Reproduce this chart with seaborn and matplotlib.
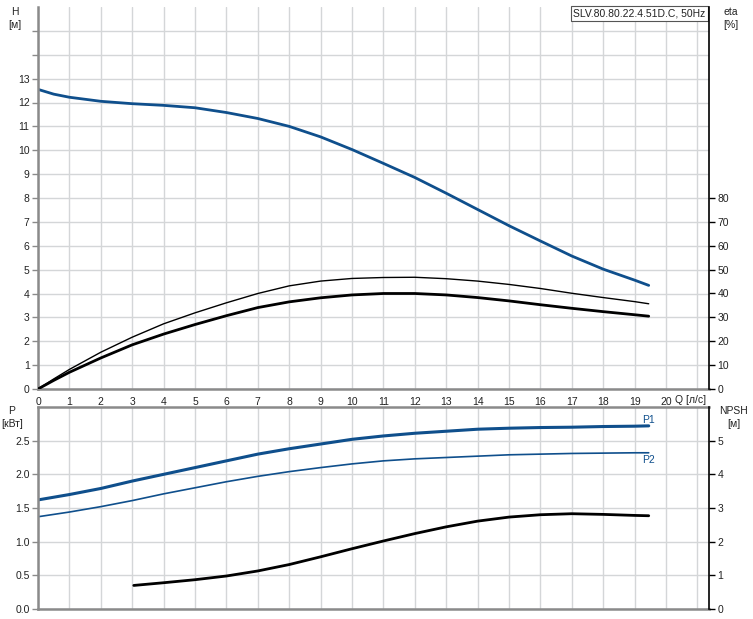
import numpy as np
import pandas as pd
import matplotlib
matplotlib.use("Agg")
import matplotlib.pyplot as plt
import seaborn as sns

# ---- data ----
q_h = [0, 0.5, 1, 2, 3, 4, 5, 6, 7, 8, 9, 10, 11, 12, 13, 14, 15, 16, 17, 18, 19, 19.45]
head = [12.55, 12.35, 12.22, 12.05, 11.95, 11.88, 11.78, 11.58, 11.33, 11.0, 10.56, 10.03,
        9.45, 8.86, 8.2, 7.52, 6.84, 6.2, 5.57, 5.02, 4.56, 4.34]

q_eta = [0, 0.5, 1, 2, 3, 4, 5, 6, 7, 8, 9, 10, 11, 12, 13, 14, 15, 16, 17, 18, 19, 19.45]
eta_thin = [0, 4.2, 8.2, 15.4, 21.7, 27.3, 31.9, 36.1, 40.0, 43.2, 45.2, 46.3, 46.7, 46.8,
            46.2, 45.2, 43.8, 42.1, 40.1, 38.3, 36.6, 35.7]
eta_thick = [0, 3.6, 7.0, 13.0, 18.5, 23.0, 27.0, 30.7, 34.1, 36.5, 38.2, 39.4, 40.0, 40.0,
             39.4, 38.3, 36.9, 35.3, 33.8, 32.4, 31.1, 30.5]

q_p = [0, 1, 2, 3, 4, 5, 6, 7, 8, 9, 10, 11, 12, 13, 14, 15, 16, 17, 18, 19, 19.45]
p1 = [1.62, 1.70, 1.79, 1.90, 2.00, 2.10, 2.20, 2.30, 2.38, 2.45, 2.52, 2.57, 2.61, 2.64,
      2.67, 2.685, 2.695, 2.70, 2.71, 2.715, 2.72]
p2 = [1.37, 1.44, 1.52, 1.61, 1.71, 1.80, 1.89, 1.97, 2.04, 2.10, 2.155, 2.20, 2.23, 2.25,
      2.27, 2.29, 2.30, 2.31, 2.315, 2.32, 2.32]

q_npsh = [3.05, 4, 5, 6, 7, 8, 9, 10, 11, 12, 13, 14, 15, 16, 17, 18, 19, 19.45]
npsh = [0.70, 0.78, 0.87, 0.98, 1.13, 1.32, 1.55, 1.79, 2.02, 2.24, 2.44, 2.61, 2.73, 2.80,
        2.83, 2.81, 2.78, 2.77]

title_text = "SLV.80.80.22.4.51D.C, 50Hz"

# ---- style ----
sns.set_style("white")
plt.rcParams['font.family'] = ['Liberation Sans', 'DejaVu Sans']
FS = 7.5
BLUE = "#0f4f8c"
GRID = "#d4d6d8"
SPINE = "#8a8a8a"

W, H = 753, 619
fig = plt.figure(figsize=(W / 100, H / 100), dpi=100)

def rect(l, t, r, b):
    return [l / W, 1 - b / H, (r - l) / W, (b - t) / H]

ax1 = fig.add_axes(rect(38, 7, 709, 389))
ax2 = fig.add_axes(rect(38, 407, 709, 609))
XMAX = 21.37

def base_style(ax, ymax, yticks, ylabels, show_top):
    ax.set_xlim(0, XMAX)
    ax.set_ylim(0, ymax)
    ax.set_xticks(range(0, 22))
    ax.set_yticks(yticks)
    ax.set_yticklabels(ylabels)
    ax.grid(True, color=GRID, linewidth=1.0)
    ax.set_axisbelow(True)
    for s in ["left", "bottom"]:
        ax.spines[s].set_color(SPINE)
        ax.spines[s].set_linewidth(1.8)
    ax.spines["top"].set_visible(show_top)
    ax.spines["top"].set_color(SPINE)
    ax.spines["top"].set_linewidth(1.8)
    ax.spines["right"].set_visible(False)
    ax.tick_params(axis="both", direction="out", length=4, width=1, color=SPINE,
                   labelsize=FS, pad=2, labelcolor="#222222")
    ax.set_xlabel("")
    ax.set_ylabel("")

# ---- top panel: head ----
sns.lineplot(x=q_h, y=head, ax=ax1, color=BLUE, linewidth=2.0)
base_style(ax1, 16, range(0, 16), [str(v) if v <= 13 else "" for v in range(0, 16)], False)
xl = [str(v) if v <= 20 else "" for v in range(0, 22)]
ax1.set_xticklabels(xl)
ax1.text(20.3, -0.45, "Q [л/с]", fontsize=FS, ha="left", va="center", color="#222222")

ax1r = ax1.twinx()
sns.lineplot(x=q_eta, y=eta_thin, ax=ax1r, color="black", linewidth=1.0)
sns.lineplot(x=q_eta, y=eta_thick, ax=ax1r, color="black", linewidth=2.0)
ax1r.set_ylim(0, 160)
ax1r.set_yticks(range(0, 90, 10))
ax1r.set_xlim(0, XMAX)
for s in ["left", "top", "bottom"]:
    ax1r.spines[s].set_visible(False)
ax1r.spines["right"].set_color("black")
ax1r.spines["right"].set_linewidth(1.2)
ax1r.tick_params(axis="y", direction="out", length=4, width=1, color="black",
                 labelsize=FS, pad=2, labelcolor="#222222")
ax1r.grid(False)
ax1r.set_ylabel("")

ax1.text(0.995, 0.997, title_text, transform=ax1.transAxes, ha="right", va="top",
         fontsize=FS, color="#222222", zorder=10,
         bbox=dict(boxstyle="square,pad=0.25", facecolor="white", edgecolor="#555555", linewidth=0.8))

# ---- bottom panel: power ----
sns.lineplot(x=q_p, y=p1, ax=ax2, color=BLUE, linewidth=2.2)
sns.lineplot(x=q_p, y=p2, ax=ax2, color=BLUE, linewidth=1.2)
base_style(ax2, 3.0, [0, 0.5, 1.0, 1.5, 2.0, 2.5], ["0.0", "0.5", "1.0", "1.5", "2.0", "2.5"], True)
ax2.set_xticklabels([])
ax2.text(q_p[-1], 2.80, "P1", color=BLUE, fontsize=FS, ha="center", va="center")
ax2.text(q_p[-1], 2.21, "P2", color=BLUE, fontsize=FS, ha="center", va="center")

ax2r = ax2.twinx()
sns.lineplot(x=q_npsh, y=npsh, ax=ax2r, color="black", linewidth=2.0)
ax2r.set_ylim(0, 6)
ax2r.set_yticks(range(0, 6))
ax2r.set_xlim(0, XMAX)
for s in ["left", "top", "bottom"]:
    ax2r.spines[s].set_visible(False)
ax2r.spines["right"].set_color("black")
ax2r.spines["right"].set_linewidth(1.2)
ax2r.tick_params(axis="y", direction="out", length=4, width=1, color="black",
                 labelsize=FS, pad=2, labelcolor="#222222")
ax2r.grid(False)
ax2r.set_ylabel("")

# ---- axis titles ----
def ftxt(x, y, s):
    fig.text(x / W, 1 - y / H, s, ha="center", va="center", fontsize=FS, color="#222222")

ftxt(15, 12, "H")
ftxt(15, 25, "[м]")
ftxt(731, 12, "eta")
ftxt(731, 25, "[%]")
ftxt(12, 411, "P")
ftxt(12, 424, "[кВт]")
ftxt(734, 411, "NPSH")
ftxt(734, 424, "[м]")

fig.savefig("out.png", dpi=100)
